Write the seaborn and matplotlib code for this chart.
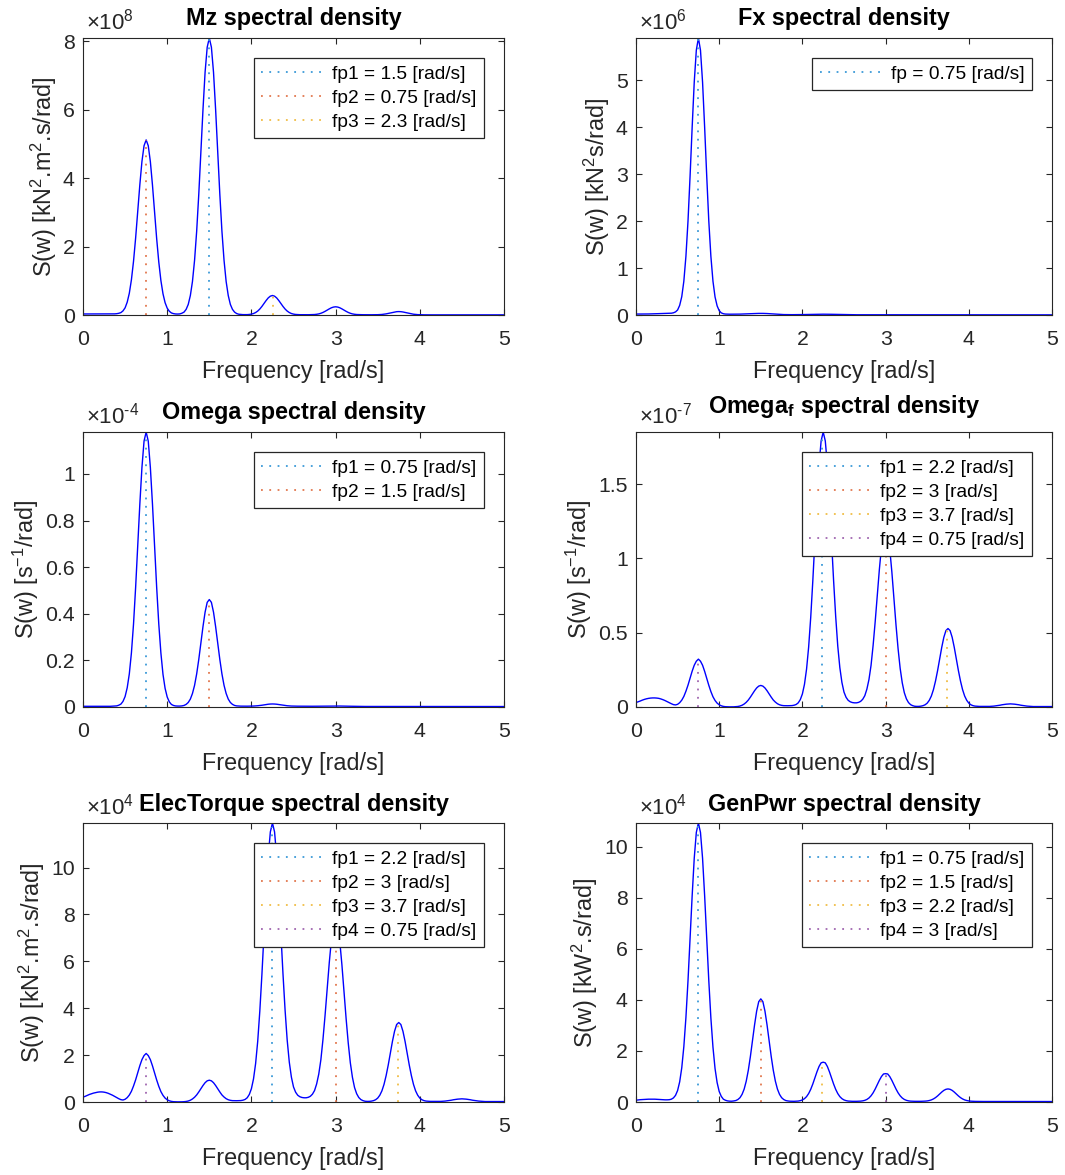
import numpy as np
import pandas as pd
import matplotlib
matplotlib.use("Agg")
import matplotlib.pyplot as plt
from matplotlib.ticker import FuncFormatter
import seaborn as sns

# Frequency resolution of the spectral estimates [rad/s]
FREQ_STEP = 0.025

# ---------------------------------------------------------------------------
# Spectral density estimates, one value per frequency bin (0 ... 5 rad/s),
# expressed in the display units of each panel (see the exponents below).
# ---------------------------------------------------------------------------
mz_psd = [
    0.03, 0.03, 0.03, 0.03, 0.03, 0.03, 0.03, 0.03, 0.03, 0.03,
    0.03, 0.03, 0.03, 0.03, 0.031, 0.033, 0.038, 0.05, 0.07, 0.12,
    0.21, 0.375, 0.635, 1.03, 1.57, 2.25, 3.03, 3.81, 4.49, 4.95,
    5.12, 4.95, 4.485, 3.80, 3.01, 2.23, 1.55, 1.01, 0.62, 0.36,
    0.20, 0.11, 0.06, 0.04, 0.03, 0.028, 0.032, 0.052, 0.085, 0.165,
    0.31, 0.57, 0.98, 1.60, 2.45, 3.53, 4.76, 6.01, 7.10, 7.83,
    8.10, 7.83, 7.10, 6.01, 4.76, 3.53, 2.45, 1.60, 0.98, 0.57,
    0.31, 0.165, 0.085, 0.042, 0.022, 0.015, 0.011, 0.010, 0.011, 0.016,
    0.026, 0.043, 0.072, 0.115, 0.175, 0.251, 0.337, 0.424, 0.50, 0.551,
    0.57, 0.551, 0.50, 0.424, 0.337, 0.251, 0.175, 0.115, 0.072, 0.043,
    0.026, 0.016, 0.011, 0.009, 0.008, 0.007, 0.007, 0.008, 0.009, 0.011,
    0.014, 0.021, 0.032, 0.05, 0.075, 0.107, 0.143, 0.179, 0.211, 0.232,
    0.24, 0.232, 0.211, 0.179, 0.143, 0.107, 0.075, 0.05, 0.032, 0.021,
    0.014, 0.011, 0.009, 0.008, 0.007, 0.007, 0.007, 0.007, 0.007, 0.008,
    0.009, 0.012, 0.016, 0.023, 0.033, 0.046, 0.06, 0.075, 0.088, 0.097,
    0.10, 0.097, 0.088, 0.075, 0.06, 0.046, 0.033, 0.023, 0.016, 0.011,
    0.008, 0.006, 0.005, 0.004, 0.004, 0.004, 0.004, 0.004, 0.004, 0.004,
    0.004, 0.004, 0.004, 0.004, 0.004, 0.004, 0.004, 0.004, 0.004, 0.004,
    0.004, 0.004, 0.004, 0.004, 0.004, 0.004, 0.004, 0.004, 0.004, 0.004,
    0.004, 0.004, 0.004, 0.004, 0.004, 0.004, 0.004, 0.004, 0.004, 0.004,
    0.004,
]

fx_psd = [
    0.020, 0.020, 0.020, 0.020, 0.020, 0.021, 0.022, 0.023, 0.024, 0.025,
    0.027, 0.029, 0.031, 0.033, 0.035, 0.036, 0.037, 0.038, 0.047, 0.066,
    0.107, 0.206, 0.39, 0.72, 1.25, 2.00, 2.96, 4.00, 4.96, 5.64,
    5.90, 5.64, 4.96, 4.00, 2.96, 2.00, 1.25, 0.72, 0.385, 0.195,
    0.092, 0.045, 0.027, 0.020, 0.018, 0.017, 0.017, 0.017, 0.017, 0.018,
    0.019, 0.020, 0.022, 0.024, 0.026, 0.028, 0.030, 0.032, 0.033, 0.034,
    0.035, 0.034, 0.033, 0.031, 0.028, 0.025, 0.022, 0.018, 0.015, 0.012,
    0.010, 0.009, 0.008, 0.007, 0.007, 0.007, 0.007, 0.007, 0.008, 0.008,
    0.009, 0.010, 0.011, 0.012, 0.013, 0.014, 0.015, 0.016, 0.016, 0.017,
    0.017, 0.017, 0.016, 0.016, 0.015, 0.014, 0.013, 0.012, 0.011, 0.010,
    0.009, 0.008, 0.007, 0.006, 0.006, 0.005, 0.005, 0.005, 0.005, 0.005,
    0.004, 0.004, 0.004, 0.004, 0.004, 0.004, 0.004, 0.004, 0.004, 0.004,
    0.004, 0.004, 0.004, 0.004, 0.004, 0.004, 0.004, 0.004, 0.004, 0.004,
    0.004, 0.004, 0.004, 0.004, 0.004, 0.004, 0.004, 0.004, 0.004, 0.004,
    0.004, 0.004, 0.004, 0.004, 0.004, 0.004, 0.004, 0.004, 0.004, 0.004,
    0.003, 0.003, 0.003, 0.003, 0.003, 0.003, 0.003, 0.003, 0.003, 0.003,
    0.003, 0.003, 0.003, 0.003, 0.003, 0.003, 0.003, 0.003, 0.003, 0.003,
    0.003, 0.003, 0.003, 0.003, 0.003, 0.003, 0.003, 0.003, 0.003, 0.003,
    0.003, 0.003, 0.003, 0.003, 0.003, 0.003, 0.003, 0.003, 0.003, 0.003,
    0.003, 0.003, 0.003, 0.003, 0.003, 0.003, 0.003, 0.003, 0.003, 0.003,
    0.003,
]

omega_psd = [
    0.003, 0.003, 0.003, 0.003, 0.003, 0.003, 0.003, 0.003, 0.003, 0.003,
    0.003, 0.003, 0.003, 0.003, 0.0035, 0.004, 0.0048, 0.0077, 0.0124, 0.024,
    0.045, 0.0825, 0.142, 0.232, 0.356, 0.513, 0.691, 0.871, 1.028, 1.141,
    1.18, 1.141, 1.028, 0.871, 0.691, 0.513, 0.356, 0.232, 0.140, 0.080,
    0.043, 0.022, 0.011, 0.0065, 0.0045, 0.004, 0.004, 0.0047, 0.0067, 0.0113,
    0.0195, 0.034, 0.058, 0.093, 0.142, 0.204, 0.274, 0.345, 0.407, 0.449,
    0.461, 0.449, 0.407, 0.345, 0.274, 0.204, 0.142, 0.093, 0.058, 0.034,
    0.0195, 0.0113, 0.0067, 0.0047, 0.004, 0.0037, 0.0035, 0.0035, 0.0035, 0.0036,
    0.0038, 0.0041, 0.0046, 0.0054, 0.0064, 0.0076, 0.0091, 0.0106, 0.0119, 0.0127,
    0.013, 0.0127, 0.0119, 0.0106, 0.0091, 0.0076, 0.0064, 0.0054, 0.0046, 0.0041,
    0.0038, 0.0036, 0.0035, 0.0034, 0.0033, 0.0032, 0.0031, 0.0031, 0.0031, 0.0032,
    0.0033, 0.0034, 0.0035, 0.0036, 0.0037, 0.0038, 0.0039, 0.0040, 0.0041, 0.0042,
    0.0042, 0.0042, 0.0041, 0.0040, 0.0039, 0.0037, 0.0035, 0.0033, 0.0031, 0.0029,
    0.0027, 0.0026, 0.0025, 0.0024, 0.0023, 0.0023, 0.0023, 0.0023, 0.0023, 0.0023,
    0.0022, 0.0022, 0.0022, 0.0022, 0.0022, 0.0022, 0.0022, 0.0022, 0.0022, 0.0022,
    0.0022, 0.0022, 0.0022, 0.0022, 0.0022, 0.0022, 0.0022, 0.0022, 0.0022, 0.0022,
    0.0021, 0.0021, 0.0021, 0.0021, 0.0021, 0.0021, 0.0021, 0.0021, 0.0021, 0.0021,
    0.0021, 0.0021, 0.0021, 0.0021, 0.0021, 0.0021, 0.0021, 0.0021, 0.0021, 0.0021,
    0.0020, 0.0020, 0.0020, 0.0020, 0.0020, 0.0020, 0.0020, 0.0020, 0.0020, 0.0020,
    0.0020, 0.0020, 0.0020, 0.0020, 0.0020, 0.0020, 0.0020, 0.0020, 0.0020, 0.0020,
    0.0020,
]

omegaf_psd = [
    0.030, 0.035, 0.040, 0.046, 0.051, 0.055, 0.058, 0.060, 0.061, 0.061,
    0.060, 0.058, 0.054, 0.049, 0.043, 0.036, 0.029, 0.022, 0.016, 0.014,
    0.018, 0.029, 0.046, 0.071, 0.106, 0.147, 0.194, 0.241, 0.281, 0.308,
    0.322, 0.308, 0.281, 0.240, 0.193, 0.146, 0.104, 0.069, 0.044, 0.026,
    0.015, 0.008, 0.004, 0.002, 0.0012, 0.001, 0.001, 0.0012, 0.002, 0.0035,
    0.0066, 0.0118, 0.020, 0.0316, 0.047, 0.0665, 0.088, 0.1095, 0.128, 0.1405,
    0.145, 0.1405, 0.128, 0.1095, 0.088, 0.0665, 0.047, 0.033, 0.022, 0.015,
    0.011, 0.009, 0.0085, 0.0085, 0.0088, 0.0095, 0.012, 0.017, 0.028, 0.050,
    0.088, 0.153, 0.255, 0.403, 0.603, 0.847, 1.12, 1.39, 1.63, 1.79,
    1.85, 1.79, 1.63, 1.39, 1.12, 0.85, 0.61, 0.41, 0.265, 0.165,
    0.10, 0.065, 0.045, 0.035, 0.030, 0.028, 0.028, 0.031, 0.038, 0.052,
    0.076, 0.12, 0.185, 0.28, 0.415, 0.575, 0.75, 0.925, 1.075, 1.172,
    1.205, 1.168, 1.063, 0.910, 0.731, 0.552, 0.392, 0.260, 0.163, 0.096,
    0.055, 0.030, 0.016, 0.009, 0.005, 0.004, 0.0042, 0.0057, 0.009, 0.015,
    0.026, 0.045, 0.074, 0.117, 0.175, 0.245, 0.323, 0.402, 0.469, 0.514,
    0.528, 0.514, 0.469, 0.402, 0.323, 0.245, 0.175, 0.117, 0.074, 0.045,
    0.026, 0.015, 0.009, 0.006, 0.005, 0.004, 0.004, 0.004, 0.004, 0.004,
    0.004, 0.005, 0.006, 0.008, 0.010, 0.012, 0.015, 0.017, 0.019, 0.020,
    0.021, 0.020, 0.019, 0.017, 0.015, 0.012, 0.010, 0.008, 0.006, 0.005,
    0.004, 0.003, 0.003, 0.003, 0.003, 0.003, 0.003, 0.003, 0.003, 0.003,
    0.003,
]

elec_psd = [
    0.21, 0.24, 0.28, 0.32, 0.35, 0.38, 0.40, 0.42, 0.43, 0.43,
    0.42, 0.40, 0.37, 0.33, 0.29, 0.24, 0.19, 0.14, 0.10, 0.085,
    0.116, 0.186, 0.296, 0.457, 0.682, 0.945, 1.247, 1.55, 1.807, 1.98,
    2.07, 1.98, 1.807, 1.543, 1.241, 0.939, 0.669, 0.444, 0.283, 0.167,
    0.096, 0.051, 0.026, 0.013, 0.008, 0.006, 0.006, 0.008, 0.013, 0.023,
    0.042, 0.076, 0.129, 0.203, 0.302, 0.428, 0.566, 0.704, 0.823, 0.903,
    0.93, 0.903, 0.823, 0.704, 0.566, 0.428, 0.302, 0.212, 0.141, 0.096,
    0.071, 0.058, 0.055, 0.055, 0.057, 0.061, 0.077, 0.109, 0.18, 0.32,
    0.566, 0.984, 1.64, 2.59, 3.88, 5.45, 7.20, 8.94, 10.48, 11.52,
    11.9, 11.52, 10.48, 8.94, 7.20, 5.47, 3.92, 2.64, 1.70, 1.06,
    0.643, 0.418, 0.289, 0.225, 0.193, 0.18, 0.18, 0.199, 0.244, 0.334,
    0.489, 0.772, 1.19, 1.80, 2.67, 3.70, 4.82, 5.95, 6.91, 7.54,
    7.75, 7.51, 6.84, 5.85, 4.70, 3.55, 2.52, 1.67, 1.05, 0.617,
    0.354, 0.193, 0.103, 0.058, 0.032, 0.026, 0.027, 0.037, 0.058, 0.096,
    0.167, 0.289, 0.476, 0.752, 1.125, 1.575, 2.077, 2.585, 3.016, 3.305,
    3.39, 3.305, 3.016, 2.585, 2.077, 1.575, 1.125, 0.752, 0.476, 0.289,
    0.167, 0.096, 0.058, 0.039, 0.032, 0.026, 0.026, 0.026, 0.026, 0.026,
    0.026, 0.032, 0.039, 0.051, 0.064, 0.077, 0.096, 0.109, 0.122, 0.129,
    0.135, 0.129, 0.122, 0.109, 0.096, 0.077, 0.064, 0.051, 0.039, 0.032,
    0.026, 0.019, 0.019, 0.019, 0.019, 0.019, 0.019, 0.019, 0.019, 0.019,
    0.019,
]

genpwr_psd = [
    0.07, 0.08, 0.09, 0.095, 0.10, 0.105, 0.11, 0.11, 0.11, 0.11,
    0.105, 0.10, 0.095, 0.09, 0.085, 0.085, 0.09, 0.11, 0.16, 0.26,
    0.45, 0.79, 1.34, 2.17, 3.31, 4.75, 6.39, 8.08, 9.55, 10.56,
    10.93, 10.56, 9.55, 8.08, 6.39, 4.75, 3.29, 2.15, 1.31, 0.76,
    0.41, 0.22, 0.11, 0.068, 0.043, 0.033, 0.031, 0.041, 0.057, 0.098,
    0.17, 0.30, 0.506, 0.817, 1.245, 1.786, 2.40, 3.02, 3.56, 3.93,
    4.04, 3.93, 3.56, 3.02, 2.40, 1.786, 1.245, 0.817, 0.506, 0.30,
    0.17, 0.098, 0.057, 0.041, 0.031, 0.028, 0.027, 0.031, 0.037, 0.053,
    0.081, 0.131, 0.211, 0.331, 0.496, 0.705, 0.942, 1.183, 1.392, 1.534,
    1.56, 1.534, 1.392, 1.183, 0.942, 0.705, 0.496, 0.331, 0.211, 0.131,
    0.081, 0.053, 0.037, 0.031, 0.027, 0.026, 0.027, 0.029, 0.034, 0.045,
    0.065, 0.10, 0.157, 0.243, 0.36, 0.509, 0.678, 0.849, 0.997, 1.098,
    1.11, 1.098, 0.997, 0.849, 0.678, 0.509, 0.36, 0.243, 0.157, 0.10,
    0.065, 0.045, 0.034, 0.029, 0.027, 0.026, 0.026, 0.027, 0.029, 0.034,
    0.042, 0.058, 0.082, 0.12, 0.172, 0.238, 0.313, 0.39, 0.455, 0.497,
    0.512, 0.497, 0.455, 0.39, 0.313, 0.238, 0.172, 0.12, 0.082, 0.058,
    0.042, 0.032, 0.027, 0.024, 0.022, 0.021, 0.020, 0.020, 0.020, 0.020,
    0.020, 0.020, 0.020, 0.020, 0.020, 0.020, 0.020, 0.020, 0.020, 0.020,
    0.019, 0.019, 0.019, 0.019, 0.019, 0.019, 0.019, 0.019, 0.019, 0.019,
    0.018, 0.018, 0.018, 0.018, 0.018, 0.018, 0.018, 0.018, 0.018, 0.018,
    0.018,
]

# Detected peak frequencies [rad/s], in legend order
mz_peaks = [1.5, 0.75, 2.26]
fx_peaks = [0.75]
omega_peaks = [0.75, 1.5]
omegaf_peaks = [2.24, 3.0, 3.74, 0.75]
elec_peaks = [2.24, 3.0, 3.74, 0.75]
genpwr_peaks = [0.75, 1.5, 2.24, 3.0]

# Power-of-ten multiplier of each panel's y axis
mz_exp, fx_exp, omega_exp, omegaf_exp, elec_exp, genpwr_exp = 8, 6, -4, -7, 4, 4

x_ticks = [0, 1, 2, 3, 4, 5]
mz_yticks = [0, 2, 4, 6, 8]
fx_yticks = [0, 1, 2, 3, 4, 5]
omega_yticks = [0, 0.2, 0.4, 0.6, 0.8, 1]
omegaf_yticks = [0, 0.5, 1, 1.5]
elec_yticks = [0, 2, 4, 6, 8, 10]
genpwr_yticks = [0, 2, 4, 6, 8, 10]

panels = [
    dict(title="Mz spectral density", ylabel=r"S(w) [kN$^2$.m$^2$.s/rad]",
         psd=mz_psd, peaks=mz_peaks, exp=mz_exp, yticks=mz_yticks, tpad=9),
    dict(title="Fx spectral density", ylabel=r"S(w) [kN$^2$s/rad]",
         psd=fx_psd, peaks=fx_peaks, exp=fx_exp, yticks=fx_yticks, tpad=9),
    dict(title="Omega spectral density", ylabel=r"S(w) [s$^{-1}$/rad]",
         psd=omega_psd, peaks=omega_peaks, exp=omega_exp, yticks=omega_yticks, tpad=9),
    dict(title=r"Omega$_{\mathbf{f}}$ spectral density", ylabel=r"S(w) [s$^{-1}$/rad]",
         psd=omegaf_psd, peaks=omegaf_peaks, exp=omegaf_exp, yticks=omegaf_yticks, tpad=14),
    dict(title="ElecTorque spectral density", ylabel=r"S(w) [kN$^2$.m$^2$.s/rad]",
         psd=elec_psd, peaks=elec_peaks, exp=elec_exp, yticks=elec_yticks, tpad=9),
    dict(title="GenPwr spectral density", ylabel=r"S(w) [kW$^2$.s/rad]",
         psd=genpwr_psd, peaks=genpwr_peaks, exp=genpwr_exp, yticks=genpwr_yticks, tpad=9),
]

PEAK_COLORS = ["#3C9AD8", "#E2774E", "#F0BD45", "#A066B0"]
AX_COLOR = "#262626"

sns.set_style("ticks")
plt.rcParams["font.family"] = ["Liberation Sans", "DejaVu Sans"]
plt.rcParams["mathtext.fontset"] = "custom"
plt.rcParams["mathtext.rm"] = "Liberation Sans"
plt.rcParams["mathtext.it"] = "Liberation Sans:italic"
plt.rcParams["mathtext.bf"] = "Liberation Sans:bold"
plt.rcParams["mathtext.default"] = "regular"

TICK_FS = 15.3
LABEL_FS = 16.8
LEGEND_FS = 13.8


def exponent_label(e):
    """'x10^e' multiplier text, written with a plain hyphen for negatives."""
    sign = r"\text{-}" if e < 0 else ""
    return r"$\times$10$^{%s%d}$" % (sign, abs(e))


fig = plt.figure(figsize=(10.65, 11.75), dpi=100)

W, H = 1065.0, 1175.0
col_x = [(83, 421), (636, 416)]
row_y = [(38, 277), (432, 275), (823, 279)]

for idx, p in enumerate(panels):
    r, c = divmod(idx, 2)
    x0, w = col_x[c]
    y0, h = row_y[r]
    ax = fig.add_axes([x0 / W, 1 - (y0 + h) / H, w / W, h / H])

    psd = np.asarray(p["psd"], dtype=float)
    freq = np.arange(len(psd)) * FREQ_STEP
    df = pd.DataFrame({"freq": freq, "psd": psd})
    sns.lineplot(data=df, x="freq", y="psd", ax=ax, color="#0000FF",
                 lw=1.0, estimator=None, sort=False, legend=False)

    n_peaks = len(p["peaks"])
    for k, (fp, col) in enumerate(zip(p["peaks"], PEAK_COLORS), start=1):
        top = np.interp(fp, freq, psd)
        name = "fp" if n_peaks == 1 else f"fp{k}"
        ax.plot([fp, fp], [0, top], ls=(0, (1, 3.6)), lw=1.3, color=col,
                label=f"{name} = {fp:.2g} [rad/s]")

    ax.set_xlim(0, 5)
    ax.set_ylim(0, psd.max())
    ax.set_xticks(x_ticks)
    ax.set_yticks(p["yticks"])
    fmt = FuncFormatter(lambda v, pos: f"{v:g}")
    ax.xaxis.set_major_formatter(fmt)
    ax.yaxis.set_major_formatter(fmt)

    for s in ax.spines.values():
        s.set_visible(True)
        s.set_color(AX_COLOR)
        s.set_linewidth(0.8)
    ax.tick_params(direction="in", top=True, right=True, length=4, width=0.8,
                   colors=AX_COLOR, labelsize=TICK_FS)
    ax.tick_params(axis="x", pad=11)
    ax.tick_params(axis="y", pad=6)

    ax.set_xlabel("Frequency [rad/s]", fontsize=LABEL_FS, color=AX_COLOR, labelpad=8)
    ax.set_ylabel(p["ylabel"], fontsize=LABEL_FS, color=AX_COLOR, labelpad=3)
    ax.set_title(p["title"], fontsize=LABEL_FS, fontweight="bold", color="black",
                 pad=p["tpad"])

    ax.annotate(exponent_label(p["exp"]), xy=(0, 1), xycoords="axes fraction",
                xytext=(2, 6.3), textcoords="offset points", ha="left", va="baseline",
                fontsize=TICK_FS + 0.7, color=AX_COLOR)

    leg = ax.legend(loc="upper right", bbox_to_anchor=(1, 1), borderaxespad=1.05,
                    fontsize=LEGEND_FS, frameon=True, fancybox=False, framealpha=1,
                    edgecolor=AX_COLOR, handlelength=3.3, handletextpad=0.42,
                    borderpad=0.38, labelspacing=0.35)
    leg.get_frame().set_linewidth(0.9)
    for t in leg.get_texts():
        t.set_color("black")

fig.savefig("out.png", dpi=100, facecolor="white")
